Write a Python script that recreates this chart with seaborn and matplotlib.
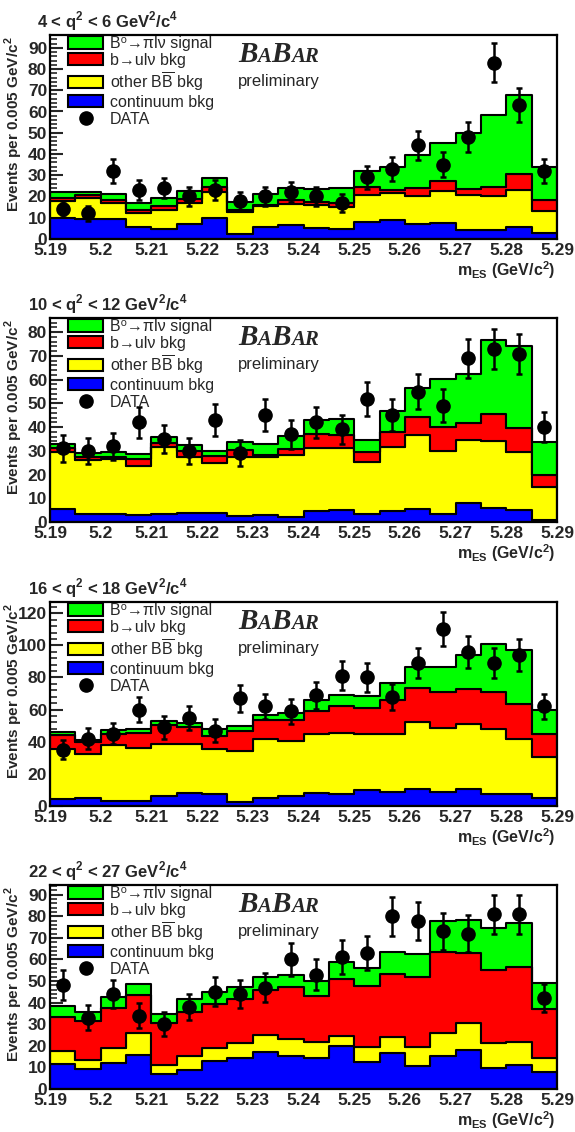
import numpy as np
import pandas as pd
import matplotlib
matplotlib.use('Agg')
import matplotlib.pyplot as plt
from matplotlib.patches import Patch
from matplotlib.lines import Line2D
from matplotlib.ticker import MultipleLocator, FuncFormatter
import seaborn as sns

# m_ES binning: 20 bins of 0.005 GeV/c^2
mes_lo = 5.19
mes_hi = 5.29
n_bins = 20

titles = [r"4 < q$^{\mathbf{2}}$ < 6 GeV$^{\mathbf{2}}$/c$^{\mathbf{4}}$",
          r"10 < q$^{\mathbf{2}}$ < 12 GeV$^{\mathbf{2}}$/c$^{\mathbf{4}}$",
          r"16 < q$^{\mathbf{2}}$ < 18 GeV$^{\mathbf{2}}$/c$^{\mathbf{4}}$",
          r"22 < q$^{\mathbf{2}}$ < 27 GeV$^{\mathbf{2}}$/c$^{\mathbf{4}}$"]

# panel 1 : 4 < q2 < 6
cont_1 = [9.8, 9.5, 9.3, 5.5, 4.6, 7.0, 9.8, 2.4, 5.8, 6.7, 5.0, 4.6, 8.2, 9.0, 7.1, 7.4, 4.2, 4.2, 5.5, 3.0]
bb_1 = [8.2, 9.7, 7.7, 6.9, 9.1, 10.0, 12.5, 10.5, 9.5, 9.8, 11.0, 10.4, 12.6, 12.8, 13.2, 15.4, 16.6, 16.1, 17.6, 10.4]
bul_1 = [1.2, 1.3, 1.2, 1.3, 1.9, 1.9, 2.1, 0.8, 0.7, 1.9, 1.6, 1.8, 3.6, 1.3, 3.6, 4.7, 2.6, 4.4, 7.6, 5.0]
sig_1 = [3.0, 1.8, 2.8, 3.3, 3.6, 3.7, 4.2, 3.9, 5.3, 5.5, 5.8, 7.4, 7.8, 11.0, 15.6, 17.6, 26.7, 33.8, 36.9, 15.7]
data_1 = [14, 12, 32, 23, 24, 20, 23, 18, 20, 22, 20, 17, 29, 33, 44, 35, 48, 83, 63, 32]

# panel 2 : 10 < q2 < 12
cont_2 = [5.4, 3.2, 3.2, 3.0, 3.2, 3.9, 3.7, 2.5, 3.0, 2.3, 4.6, 5.1, 3.2, 4.8, 5.6, 3.2, 8.2, 5.8, 5.1, 0.8]
bb_2 = [24.3, 23.0, 23.3, 20.7, 28.6, 23.7, 21.1, 25.1, 24.3, 26.0, 26.5, 26.3, 22.3, 27.0, 31.1, 26.9, 26.4, 28.4, 24.6, 14.1]
bul_2 = [1.4, 1.4, 1.1, 2.8, 1.7, 2.5, 3.1, 2.8, 1.0, 2.5, 6.0, 5.3, 3.8, 6.3, 7.7, 10.1, 7.0, 11.4, 9.8, 4.9]
sig_2 = [1.7, 1.4, 2.1, 2.2, 2.5, 2.2, 2.2, 3.4, 4.6, 5.5, 5.7, 6.6, 5.3, 8.5, 12.0, 20.1, 20.7, 31.2, 34.5, 13.8]
data_2 = [31, 30, 32, 42, 35, 30, 43, 29, 45, 37, 42, 39, 52, 45, 55, 49, 69, 73, 71, 40]

# panel 3 : 16 < q2 < 18
cont_3 = [4.2, 4.8, 3.1, 3.1, 6.2, 7.9, 7.3, 2.7, 4.8, 6.2, 8.3, 7.7, 9.8, 8.7, 10.4, 8.7, 10.4, 7.3, 7.7, 5.2]
bb_3 = [31.5, 27.8, 34.9, 33.2, 32.6, 30.9, 28.0, 31.6, 36.7, 34.3, 36.4, 38.0, 34.9, 36.4, 41.9, 39.7, 40.5, 40.5, 33.8, 25.3]
bul_3 = [8.5, 7.5, 7.1, 9.4, 11.7, 10.4, 8.3, 12.4, 11.9, 12.9, 14.5, 16.6, 16.2, 20.7, 21.4, 22.8, 21.8, 23.4, 22.3, 14.2]
sig_3 = [2.1, 0.8, 2.0, 2.1, 2.5, 2.7, 4.2, 3.1, 3.3, 4.8, 6.6, 6.9, 7.6, 11.0, 12.9, 15.4, 21.3, 29.5, 33.2, 14.9]
data_3 = [35, 42, 45, 60, 49, 55, 47, 67, 62, 59, 69, 81, 80, 68, 89, 110, 96, 89, 94, 62]

# panel 4 : 22 < q2 < 27
cont_4 = [11.6, 9.1, 12.2, 15.7, 6.9, 8.8, 13.1, 14.2, 17.3, 15.3, 14.2, 19.9, 12.7, 16.8, 10.6, 15.3, 18.1, 9.6, 11.1, 8.0]
bb_4 = [6.1, 4.3, 6.6, 10.1, 4.2, 6.5, 5.7, 7.3, 7.7, 7.7, 7.7, 4.6, 6.9, 7.4, 8.7, 10.8, 12.3, 11.5, 10.8, 6.2]
bul_4 = [15.8, 18.2, 18.5, 17.7, 19.3, 20.5, 20.6, 20.0, 20.8, 24.4, 21.2, 26.3, 28.1, 29.3, 32.7, 37.5, 32.4, 34.0, 34.7, 22.7]
sig_4 = [4.9, 4.2, 5.1, 5.0, 4.3, 5.7, 5.7, 5.9, 6.2, 5.4, 7.1, 7.8, 8.2, 9.8, 10.5, 14.3, 15.4, 19.3, 20.1, 12.0]
data_4 = [48, 33, 44, 34, 30, 38, 45, 44, 47, 60, 53, 61, 63, 80, 78, 73, 72, 81, 81, 42]

comp_order = ["sig", "bul", "bb", "cont"]
comp_colors = {"sig": "#00ff00", "bul": "#ff0000", "bb": "#ffff00", "cont": "#0000ff"}
comp_labels = ["B⁰→πlν signal", "b→ulν bkg", r"other B$\overline{\mathrm{B}}$ bkg", "continuum bkg"]

ymax = [96, 86, 127, 94.5]
ymajor = [10, 10, 20, 10]
yminor = [2, 2, 4, 2]

sns.set_style("ticks")
plt.rcParams['font.family'] = ['Liberation Sans', 'DejaVu Sans']
plt.rcParams['mathtext.fontset'] = 'custom'
plt.rcParams['mathtext.rm'] = 'Liberation Sans:weight=normal'
plt.rcParams['mathtext.bf'] = 'Liberation Sans:weight=bold'

W, H = 575, 1132
fig = plt.figure(figsize=(W / 100, H / 100), dpi=100)

tops = [35, 318, 602, 885]
ax_left, ax_w, ax_h = 50, 507, 204

centers = mes_lo + (np.arange(n_bins) + 0.5) * (mes_hi - mes_lo) / n_bins

panels = [(cont_1, bb_1, bul_1, sig_1, data_1),
          (cont_2, bb_2, bul_2, sig_2, data_2),
          (cont_3, bb_3, bul_3, sig_3, data_3),
          (cont_4, bb_4, bul_4, sig_4, data_4)]

for i, (cont, bb, bul, sig, data) in enumerate(panels):
    top = tops[i]
    ax = fig.add_axes([ax_left / W, 1 - (top + ax_h) / H, ax_w / W, ax_h / H])
    df = pd.concat([pd.DataFrame({"mes": centers, "n": vals, "comp": name})
                    for name, vals in zip(["cont", "bb", "bul", "sig"], [cont, bb, bul, sig])])
    sns.histplot(data=df, x="mes", weights="n", hue="comp", hue_order=comp_order,
                 palette=comp_colors, multiple="stack", element="step",
                 bins=n_bins, binrange=(mes_lo, mes_hi), alpha=1,
                 edgecolor="black", linewidth=1.5, legend=False, ax=ax)
    data = np.array(data)
    ax.errorbar(centers, data, yerr=np.sqrt(data), fmt='o', color='black', ms=9.5,
                elinewidth=1.8, capsize=2.5, capthick=1.8, zorder=5)

    ax.set_xlim(mes_lo, mes_hi)
    ax.set_ylim(0, ymax[i])
    ax.set_xlabel("")
    ax.set_ylabel("")
    ax.xaxis.set_major_locator(MultipleLocator(0.01))
    ax.xaxis.set_major_formatter(FuncFormatter(lambda v, p: f"{v:g}"))
    ax.yaxis.set_major_locator(MultipleLocator(ymajor[i]))
    ax.yaxis.set_minor_locator(MultipleLocator(yminor[i]))
    ax.tick_params(axis='x', length=0, labelsize=12.5, pad=3)
    ax.tick_params(axis='y', which='major', direction='in', length=9, width=1.5, labelsize=12.5, pad=2)
    ax.tick_params(axis='y', which='minor', direction='in', length=5, width=1.2)
    for lab in ax.get_xticklabels() + ax.get_yticklabels():
        lab.set_fontweight('bold')
    for s in ax.spines.values():
        s.set_linewidth(1.6)
        s.set_color('black')
        s.set_visible(True)

    # legend
    handles = [Patch(facecolor=comp_colors[c], edgecolor='black', linewidth=1.5) for c in comp_order]
    handles.append(Line2D([], [], marker='o', color='black', ls='none', ms=9.5))
    ax.legend(handles, comp_labels + ["DATA"], loc='upper left', bbox_to_anchor=(18 / ax_w, 1 - 1 / ax_h),
              frameon=False, borderpad=0, borderaxespad=0, handlelength=2.2, handleheight=0.8,
              handletextpad=0.4, labelspacing=0.12, prop={'size': 11.5, 'weight': 'normal'})

    # titles and labels
    fig.text(108 / W, 1 - (top - 14) / H, titles[i], ha='center', va='center', fontsize=12, fontweight='bold')
    fig.text(14 / W, 1 - (top + 1) / H, r"Events per 0.005 GeV/c$^{\mathbf{2}}$", rotation=90,
             ha='center', va='top', fontsize=11, fontweight='bold')
    fig.text(555 / W, 1 - (top + ax_h + 31) / H, r"m$_{\mathbf{ES}}$ (GeV/c$^{\mathbf{2}}$)",
             ha='right', va='center', fontsize=11.5, fontweight='bold')

    # BABAR logo
    base = 1 - (top + 27) / H
    for txt, xp, sz in [("B", 238, 21), ("A", 257.5, 15), ("B", 271.5, 21), ("AR", 291, 15)]:
        fig.text(xp / W, base, txt, ha='left', va='baseline', fontsize=sz,
                 family='Liberation Serif', fontweight='bold', style='italic')
    fig.text(238 / W, 1 - (top + 46.5) / H, "preliminary", ha='left', va='center',
             fontsize=12, fontweight='normal')

fig.savefig("out.png", dpi=100)
